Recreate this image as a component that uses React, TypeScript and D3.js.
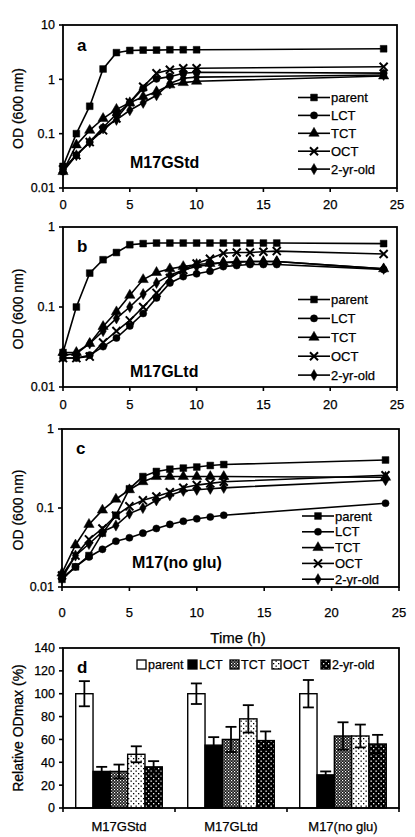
import React from "react";
import * as d3 from "d3";

const SERIES = ["parent", "LCT", "TCT", "OCT", "2-yr-old"];

const timesA = [0, 1, 2, 3, 4, 5, 6, 7, 8, 9, 10, 24];
const parentA = [0.025, 0.1, 0.32, 1.55, 3.1, 3.4, 3.45, 3.45, 3.5, 3.5, 3.5, 3.65];
const lctA = [0.02, 0.04, 0.07, 0.13, 0.23, 0.37, 0.68, 1.02, 1.12, 1.29, 1.35, 1.3];
const tctA = [0.02, 0.062, 0.115, 0.19, 0.28, 0.37, 0.48, 0.59, 0.79, 0.87, 0.92, 1.15];
const octA = [0.022, 0.04, 0.07, 0.115, 0.19, 0.38, 0.73, 1.29, 1.5, 1.6, 1.6, 1.7];
const oldA = [0.022, 0.04, 0.07, 0.125, 0.18, 0.27, 0.37, 0.51, 0.84, 1.05, 1.1, 1.2];

const timesB = [0, 1, 2, 3, 4, 5, 6, 7, 8, 9, 10, 11, 12, 13, 14, 15, 16, 24];
const parentB = [0.027, 0.1, 0.265, 0.39, 0.48, 0.6, 0.62, 0.63, 0.63, 0.63, 0.63, 0.63, 0.63, 0.63, 0.63, 0.63, 0.63, 0.62];
const lctB = [0.023, 0.023, 0.025, 0.032, 0.041, 0.058, 0.083, 0.13, 0.2, 0.24, 0.26, 0.28, 0.32, 0.33, 0.34, 0.34, 0.34, 0.295];
const tctB = [0.027, 0.027, 0.035, 0.057, 0.087, 0.14, 0.22, 0.27, 0.3, 0.32, 0.34, 0.35, 0.36, 0.37, 0.37, 0.37, 0.37, 0.3];
const octB = [0.023, 0.023, 0.024, 0.036, 0.05, 0.068, 0.1, 0.15, 0.23, 0.29, 0.35, 0.4, 0.47, 0.48, 0.48, 0.49, 0.5, 0.46];
const oldB = [0.025, 0.026, 0.035, 0.05, 0.072, 0.1, 0.145, 0.2, 0.25, 0.29, 0.32, 0.34, 0.36, 0.36, 0.37, 0.37, 0.37, 0.3];

const timesC = [0, 1, 2, 3, 4, 5, 6, 7, 8, 9, 10, 11, 12, 24];
const parentC = [0.0125, 0.018, 0.025, 0.048, 0.081, 0.175, 0.25, 0.29, 0.31, 0.32, 0.33, 0.345, 0.355, 0.405];
const lctC = [0.013, 0.018, 0.024, 0.03, 0.038, 0.042, 0.048, 0.055, 0.062, 0.068, 0.073, 0.077, 0.081, 0.115];
const tctC = [0.015, 0.034, 0.062, 0.094, 0.129, 0.17, 0.215, 0.25, 0.25, 0.25, 0.25, 0.25, 0.25, 0.245];
const octC = [0.014, 0.025, 0.04, 0.055, 0.08, 0.105, 0.125, 0.14, 0.158, 0.18, 0.195, 0.205, 0.215, 0.26];
const oldC = [0.013, 0.025, 0.035, 0.05, 0.06, 0.085, 0.1, 0.125, 0.145, 0.165, 0.17, 0.175, 0.18, 0.225];

const xTicks = [0, 5, 10, 15, 20, 25];
const yTicksA = [0.01, 0.1, 1, 10];
const yTicksB = [0.01, 0.1, 1];

const media = ["M17GStd", "M17GLtd", "M17(no glu)"];
const relParent = [100, 100, 100];
const relLCT = [32, 55, 29];
const relTCT = [32, 60, 63];
const relOCT = [47, 78, 63];
const relOld = [36, 59, 56];
const errParent = [11, 9, 12];
const errLCT = [4, 7, 3];
const errTCT = [6, 11, 12];
const errOCT = [7, 12, 10];
const errOld = [5, 8, 8];
const yTicksD = [0, 20, 40, 60, 80, 100, 120, 140];

const FONT = "'Liberation Sans', Arial, sans-serif";
const TXT = { fontFamily: FONT, stroke: "#000", strokeWidth: 0.25 } as any;

const symbolFor: Record<string, any> = {
  parent: d3.symbolSquare,
  LCT: d3.symbolCircle,
  TCT: d3.symbolTriangle,
  OCT: d3.symbolTimes,
  "2-yr-old": d3.symbolDiamond,
};
const sizeFor: Record<string, number> = {
  parent: 46,
  LCT: 40,
  TCT: 46,
  OCT: 44,
  "2-yr-old": 36,
};

function Marker({ name, x, y }: { name: string; x: number; y: number }) {
  const p = d3.symbol().type(symbolFor[name]).size(sizeFor[name])() as string;
  const stroke = name === "OCT";
  return (
    <path
      d={p}
      transform={`translate(${x},${y})`}
      fill={stroke ? "none" : "#000"}
      stroke="#000"
      strokeWidth={stroke ? 2 : 0.5}
    />
  );
}

type PanelProps = {
  left: number;
  right: number;
  top: number;
  bottom: number;
  yTicks: number[];
  yTickLabels: string[];
  times: number[];
  data: number[][];
  letter: string;
  letterY: number;
  medium: string;
  mediumX: number;
  mediumY: number;
  legendX: number;
  legendY: number;
  legendStep: number;
  xLabelY: number;
};

function LinePanel(p: PanelProps) {
  const x = d3.scaleLinear().domain([0, 25]).range([p.left, p.right]);
  const y = d3
    .scaleLog()
    .domain([p.yTicks[0], p.yTicks[p.yTicks.length - 1]])
    .range([p.bottom, p.top]);
  const line = d3
    .line<number>()
    .x((_, i) => x(p.times[i]))
    .y((v) => y(v));
  return (
    <g>
      {p.data.map((vals, si) => (
        <path key={"l" + si} d={line(vals) as string} fill="none" stroke="#000" strokeWidth={1.6} />
      ))}
      {p.data.map((vals, si) =>
        vals.map((v, i) => (
          <Marker key={`m${si}-${i}`} name={SERIES[si]} x={x(p.times[i])} y={y(v)} />
        ))
      )}
      <rect
        x={p.left}
        y={p.top}
        width={p.right - p.left}
        height={p.bottom - p.top}
        fill="none"
        stroke="#000"
        strokeWidth={1.8}
      />
      {p.yTicks.map((t, i) => (
        <g key={"yt" + i}>
          <line x1={p.left - 4} x2={p.left} y1={y(t)} y2={y(t)} stroke="#000" strokeWidth={1.6} />
          <text x={p.left - 8} y={y(t)} dy="0.35em" textAnchor="end" fontSize={12.5} {...TXT}>
            {p.yTickLabels[i]}
          </text>
        </g>
      ))}
      {xTicks.map((t) => (
        <g key={"xt" + t}>
          <line x1={x(t)} x2={x(t)} y1={p.bottom} y2={p.bottom + 4} stroke="#000" strokeWidth={1.6} />
          <text x={x(t)} y={p.xLabelY} textAnchor="middle" fontSize={13} {...TXT}>
            {t}
          </text>
        </g>
      ))}
      <text
        transform={`translate(${18},${(p.top + p.bottom) / 2 + 2}) rotate(-90)`}
        textAnchor="middle"
        dy="0.35em"
        fontSize={14}
        {...TXT}
      >
        OD (600 nm)
      </text>
      <text x={p.left + 14} y={p.letterY} fontSize={17} fontWeight="bold" fontFamily={FONT}>
        {p.letter}
      </text>
      <text x={p.mediumX} y={p.mediumY} fontSize={16} fontWeight="bold" fontFamily={FONT}>
        {p.medium}
      </text>
      {SERIES.map((s, i) => {
        const ly = p.legendY + i * p.legendStep;
        return (
          <g key={"lg" + s}>
            <line x1={p.legendX} x2={p.legendX + 32} y1={ly} y2={ly} stroke="#000" strokeWidth={1.6} />
            <Marker name={s} x={p.legendX + 16} y={ly} />
            <text x={p.legendX + 33} y={ly} dy="0.35em" fontSize={13} {...TXT}>
              {s}
            </text>
          </g>
        );
      })}
    </g>
  );
}

function BarPanel() {
  const left = 63,
    right = 399,
    top = 648,
    bottom = 808;
  const x0 = d3.scaleBand<string>().domain(media).range([left, right]).padding(0);
  const x1 = d3
    .scaleBand<string>()
    .domain(SERIES)
    .range([0, x0.bandwidth()])
    .paddingInner(0)
    .paddingOuter(0.735);
  const y = d3.scaleLinear().domain([0, 140]).range([bottom, top]);
  const vals = [relParent, relLCT, relTCT, relOCT, relOld];
  const errs = [errParent, errLCT, errTCT, errOCT, errOld];
  const fills = ["#fff", "#000", "url(#pTCT)", "url(#pOCT)", "url(#pOld)"];
  const legendXs = [137, 188, 230, 272, 321];
  return (
    <g>
      <defs>
        <pattern id="pTCT" width={3} height={3} patternUnits="userSpaceOnUse">
          <rect width={3} height={3} fill="#1a1a1a" />
          <rect x={0} y={0} width={1.2} height={1.2} fill="#fff" />
          <rect x={1.5} y={1.5} width={1.2} height={1.2} fill="#ccc" />
        </pattern>
        <pattern id="pOCT" width={5} height={5} patternUnits="userSpaceOnUse">
          <rect width={5} height={5} fill="#fff" />
          <rect x={0.5} y={0.5} width={1.3} height={1.3} fill="#000" />
          <rect x={3} y={3} width={1.3} height={1.3} fill="#000" />
        </pattern>
        <pattern id="pOld" width={5} height={5} patternUnits="userSpaceOnUse">
          <rect width={5} height={5} fill="#000" />
          <rect x={0.5} y={0.5} width={1.3} height={1.3} fill="#fff" />
          <rect x={3} y={3} width={1.3} height={1.3} fill="#fff" />
        </pattern>
      </defs>
      {media.map((m, mi) =>
        SERIES.map((s, si) => {
          const bx = (x0(m) as number) + (x1(s) as number);
          const v = vals[si][mi];
          return (
            <rect
              key={`b${mi}-${si}`}
              x={bx}
              y={y(v)}
              width={x1.bandwidth()}
              height={bottom - y(v)}
              fill={fills[si]}
              stroke="#000"
              strokeWidth={1.4}
            />
          );
        })
      )}
      {media.map((m, mi) =>
        SERIES.map((s, si) => {
          const cx = (x0(m) as number) + (x1(s) as number) + x1.bandwidth() / 2;
          const v = vals[si][mi];
          const e = errs[si][mi];
          return (
            <g key={`e${mi}-${si}`} stroke="#000" strokeWidth={1.8}>
              <line x1={cx} x2={cx} y1={y(v - e)} y2={y(v + e)} />
              <line x1={cx - 5.5} x2={cx + 5.5} y1={y(v + e)} y2={y(v + e)} />
              <line x1={cx - 5.5} x2={cx + 5.5} y1={y(v - e)} y2={y(v - e)} />
            </g>
          );
        })
      )}
      <rect x={left} y={top} width={right - left} height={bottom - top} fill="none" stroke="#000" strokeWidth={1.8} />
      {yTicksD.map((t) => (
        <g key={"dy" + t}>
          <line x1={left - 4} x2={left} y1={y(t)} y2={y(t)} stroke="#000" strokeWidth={1.6} />
          <text x={left - 8} y={y(t)} dy="0.35em" textAnchor="end" fontSize={12.5} {...TXT}>
            {t}
          </text>
        </g>
      ))}
      {[left, left + x0.bandwidth(), left + 2 * x0.bandwidth(), right].map((tx, i) => (
        <line key={"dx" + i} x1={tx} x2={tx} y1={bottom} y2={bottom + 4} stroke="#000" strokeWidth={1.6} />
      ))}
      {media.map((m) => (
        <text
          key={"ml" + m}
          x={(x0(m) as number) + x0.bandwidth() / 2}
          y={831}
          textAnchor="middle"
          fontSize={13}
          {...TXT}
        >
          {m}
        </text>
      ))}
      <text
        transform={`translate(18,${(top + bottom) / 2}) rotate(-90)`}
        textAnchor="middle"
        dy="0.35em"
        fontSize={14}
        {...TXT}
      >
        Relative ODmax (%)
      </text>
      <text x={77} y={673} fontSize={17} fontWeight="bold" fontFamily={FONT}>
        d
      </text>
      {SERIES.map((s, i) => (
        <g key={"dl" + s}>
          <rect x={legendXs[i]} y={660} width={9} height={9} fill={fills[i]} stroke="#000" strokeWidth={1.3} />
          <text x={legendXs[i] + 11} y={664.5} dy="0.35em" fontSize={12.5} {...TXT}>
            {s}
          </text>
        </g>
      ))}
    </g>
  );
}

export default function App() {
  return (
    <svg
      width={415}
      height={837}
      style={{ position: "absolute", left: 0, top: 0, background: "#fff" }}
    >
      <rect width={415} height={837} fill="#fff" />
      <LinePanel
        left={63}
        right={397}
        top={25}
        bottom={188}
        yTicks={yTicksA}
        yTickLabels={["0.01", "0.1", "1", "10"]}
        times={timesA}
        data={[parentA, lctA, tctA, octA, oldA]}
        letter="a"
        letterY={51}
        medium="M17GStd"
        mediumX={130}
        mediumY={168}
        legendX={298}
        legendY={97.5}
        legendStep={17.9}
        xLabelY={209}
      />
      <LinePanel
        left={63}
        right={397}
        top={227}
        bottom={387}
        yTicks={yTicksB}
        yTickLabels={["0.01", "0.1", "1"]}
        times={timesB}
        data={[parentB, lctB, tctB, octB, oldB]}
        letter="b"
        letterY={252}
        medium="M17GLtd"
        mediumX={130}
        mediumY={377}
        legendX={298}
        legendY={299.5}
        legendStep={18.9}
        xLabelY={409}
      />
      <LinePanel
        left={62}
        right={399}
        top={429}
        bottom={587}
        yTicks={yTicksB}
        yTickLabels={["0.01", "0.1", "1"]}
        times={timesC}
        data={[parentC, lctC, tctC, octC, oldC]}
        letter="c"
        letterY={454}
        medium="M17(no glu)"
        mediumX={132}
        mediumY={568}
        legendX={302}
        legendY={516}
        legendStep={15.8}
        xLabelY={617}
      />
      <text x={238} y={643} textAnchor="middle" fontSize={15} {...TXT}>
        Time (h)
      </text>
      <BarPanel />
    </svg>
  );
}
